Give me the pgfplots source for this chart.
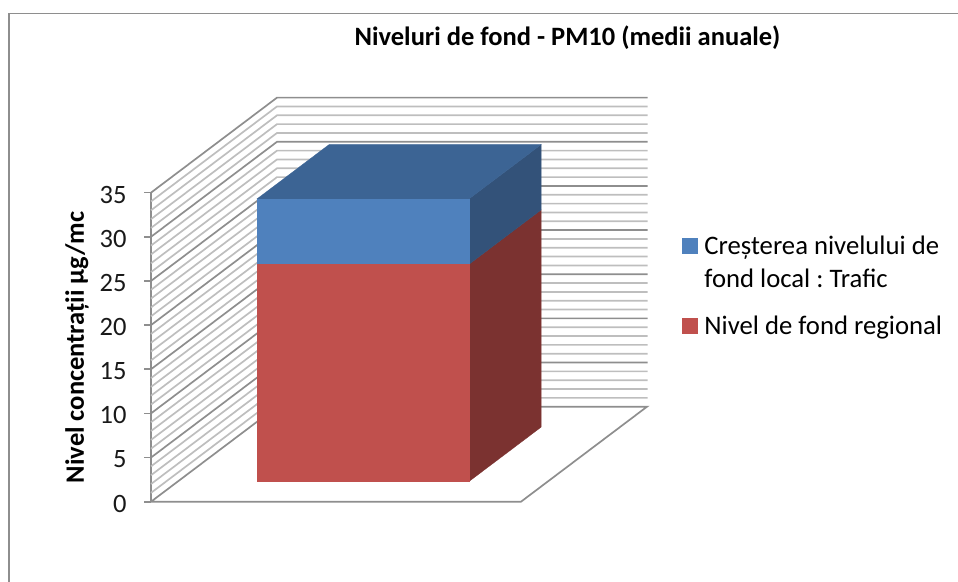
\documentclass[border=0pt]{standalone}
\usepackage{fontspec}
\setmainfont{Carlito}
\usepackage{pgfplots}
\pgfplotsset{compat=1.18}
\definecolor{gmajor}{HTML}{8E8E8E}
\definecolor{gminor}{HTML}{BEBEBE}
\definecolor{bluefront}{HTML}{4F81BD}
\definecolor{bluetop}{HTML}{3C6494}
\definecolor{blueside}{HTML}{335279}
\definecolor{redfront}{HTML}{C0504D}
\definecolor{redside}{HTML}{7B3230}
\newcommand{\wall}[2]{\addplot3[forget plot,no marks,draw=#2,line width=1.7pt,line join=miter] coordinates {(0,0,#1)(0,1,#1)(1.002,1,#1)};}
\frenchspacing
\begin{document}
\begin{tikzpicture}[x=1pt,y=1pt]
\path[use as bounding box] (0,0) rectangle (958,581);
\draw[gmajor,line width=1.8pt] (9,-5) -- (9,567.5) -- (965,567.5);
\begin{axis}[
  at={(151pt,79.3pt)},anchor=origin,
  x={(370pt,0pt)},y={(126pt,95pt)},z={(0pt,8.83pt)},
  xmin=0,xmax=1,ymin=0,ymax=1,zmin=0,zmax=35,
  clip=false,
  axis x line=none,axis y line=none,axis z line*=left,
  z axis line style={draw=gmajor,line width=1.7pt,-},
  xtick=\empty,ytick=\empty,
  ztick={0,5,...,35},
  tick align=outside,
  major tick length=0pt,
  z tick style={draw=none},
  ticklabel style={font=\fontsize{26.5}{26.5}\selectfont,/pgf/number format/assume math mode=true,text=black!90,anchor=east,xshift=-21pt,yshift=-2pt},
  zlabel={\fontsize{26.5}{28}\selectfont\bfseries Nivel concentrații µg/mc},
  every axis z label/.style={at={(axis cs:-0.2,0,17.46)},rotate=90,anchor=center},
  title={\fontsize{26.5}{28}\selectfont\bfseries Niveluri de fond - PM10 (medii anuale)},
  every axis title/.style={at={(axis cs:1.1257,0,52.6)},anchor=center},
  legend style={draw=none,fill=none,at={(axis description cs:1.0704,0.535)},anchor=west,
    font=\fontsize{26.7}{33}\selectfont,cells={align=left,anchor=west},
    row sep=23pt,inner sep=0pt,/tikz/column 1/.style={column sep=5pt}},
]
% side walls: minor gridlines first, major on top
\pgfplotsinvokeforeach{1,2,3,4,6,7,8,9,11,12,13,14,16,17,18,19,21,22,23,24,26,27,28,29,31,32,33,34}{\wall{#1}{gminor}}
\pgfplotsinvokeforeach{5,10,15,20,25,30,35}{\wall{#1}{gmajor}}
% tick marks on the value axis
\pgfplotsinvokeforeach{0,5,10,15,20,25,30,35}{\addplot3[forget plot,no marks,draw=gmajor,line width=1.7pt] coordinates {(0,0,#1)(-0.019,0,#1)};}
% floor
\addplot3[forget plot,no marks,draw=gmajor,line width=1.7pt] coordinates {(0,1,0)(0,0,0)(1,0,0)(1,1,0)(0,1,0)};
% hidden-side faces of the stacked bar
\addplot3[forget plot,fill=redside,draw=redside,line width=.3pt] coordinates {(0.787,0.2126,0)(0.787,0.786,0)(0.787,0.786,24.6)(0.787,0.2126,24.6)} -- cycle;
\addplot3[forget plot,fill=blueside,draw=blueside,line width=.3pt] coordinates {(0.787,0.2126,24.6)(0.787,0.786,24.6)(0.787,0.786,32)(0.787,0.2126,32)} -- cycle;
\addplot3[forget plot,fill=bluetop,draw=bluetop,line width=.3pt] coordinates {(0.214,0.2126,32)(0.787,0.2126,32)(0.787,0.786,32)(0.214,0.786,32)} -- cycle;
% front faces, giving the legend
\addplot3[fill=bluefront,draw=bluefront,line width=.3pt,
  legend image code/.code={\fill[bluefront] (0pt,9pt) rectangle (15pt,24pt);}]
  coordinates {(0.214,0.2126,24.6)(0.787,0.2126,24.6)(0.787,0.2126,32)(0.214,0.2126,32)} -- cycle;
\addlegendentry{Creșterea nivelului de\\fond local : Trafic}
\addplot3[fill=redfront,draw=redfront,line width=.3pt,
  legend image code/.code={\fill[redfront] (0pt,-7.5pt) rectangle (15pt,7.5pt);}]
  coordinates {(0.214,0.2126,0)(0.787,0.2126,0)(0.787,0.2126,24.6)(0.214,0.2126,24.6)} -- cycle;
\addlegendentry{Nivel de fond regional}
\end{axis}
\end{tikzpicture}
\end{document}
